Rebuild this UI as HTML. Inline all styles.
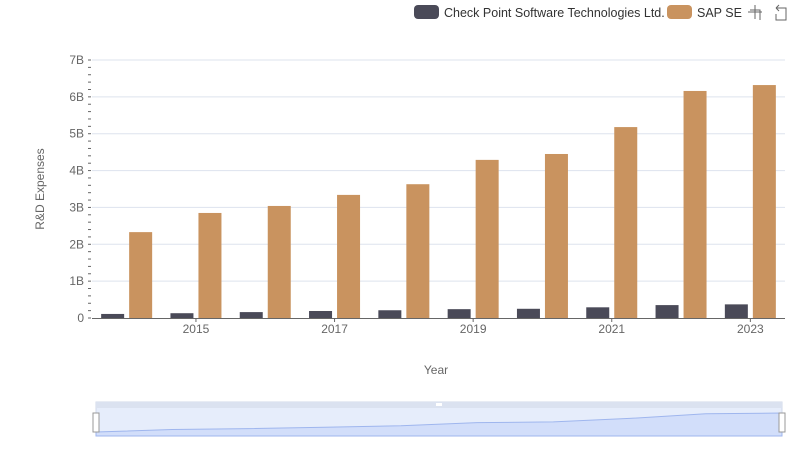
<!DOCTYPE html>
<html><head><meta charset="utf-8">
<style>
body{margin:0;background:#fff;font-family:"Liberation Sans",sans-serif;}
svg text{font-family:"Liberation Sans",sans-serif;}
</style></head>
<body>
<svg id="chart" width="800" height="461" viewBox="0 0 800 461">
  <g id="grid"></g>
  <g id="bars"></g>
  <g id="axes"></g>
  <text x="44" y="189" transform="rotate(-90 44 189)" text-anchor="middle" font-size="12" fill="#666">R&amp;D Expenses</text>
  <text x="436" y="374" text-anchor="middle" font-size="12" fill="#666">Year</text>
  <g>
    <rect x="414" y="5" width="25" height="14" rx="4" fill="#4a4a58"/>
    <text x="444" y="17" font-size="12.5" fill="#333">Check Point Software Technologies Ltd.</text>
  </g>
  <g>
    <rect x="667" y="5" width="25" height="14" rx="4" fill="#c9935f"/>
    <text x="697" y="17" font-size="12.5" fill="#333">SAP SE</text>
  </g>
  <g stroke="#666" fill="none" stroke-width="1">
    <path d="M748 12h14M755 5v14M750 10h10v10"/>
  </g>
  <g stroke="#666" fill="none" stroke-width="1">
    <path d="M776 8h10v12h-10v-6M776 8l3-3M776 8l3 3"/>
  </g>
  <g>
    <rect x="96" y="402" width="686" height="34" fill="#e6edfb" stroke="#d0d8ea"/>
    <rect x="96" y="402" width="686" height="6" fill="#dbe2f0"/>
    <path id="sliderArea" fill="#d2defa" stroke="#9fb6ee" stroke-width="1"/>
    <rect x="93" y="413" width="6" height="19" fill="#fff" stroke="#999"/>
    <rect x="779" y="413" width="6" height="19" fill="#fff" stroke="#999"/>
    <rect x="436" y="403" width="6" height="3" fill="#fff"/>
  </g>
</svg>
<script>
const years = [2014,2015,2016,2017,2018,2019,2020,2021,2022,2023];
const checkPoint = [0.11,0.13,0.16,0.19,0.21,0.24,0.25,0.29,0.35,0.37];
const sap = [2.33,2.85,3.04,3.34,3.63,4.29,4.45,5.18,6.16,6.32];
const yTicks = [0,1,2,3,4,5,6,7];
const yTickLabels = ["0","1B","2B","3B","4B","5B","6B","7B"];
const xLabelYears = [2015,2017,2019,2021,2023];

const NS="http://www.w3.org/2000/svg";
const x0=92, x1=785, y0=318, yTop=60, yMax=7;
const step=(x1-x0)/years.length;
const yS=v=>y0-(v/yMax)*(y0-yTop);
const xC=yr=>x0+step*(years.indexOf(yr)+0.5);
function mk(tag,attrs,parent){const e=document.createElementNS(NS,tag);for(const k in attrs)e.setAttribute(k,attrs[k]);parent.appendChild(e);return e;}
const grid=document.getElementById('grid'),bars=document.getElementById('bars'),axes=document.getElementById('axes');
yTicks.forEach((t,i)=>{
  const y=yS(t);
  if(t>0){const l=mk('line',{x1:x0,x2:x1,y1:y,y2:y,stroke:'#dde3ee'},grid);
  
  }
  const tx=mk('text',{x:84,y:y+4,'text-anchor':'end','font-size':12,fill:'#666'},axes);
  tx.textContent=yTickLabels[i];
  
  
});
for(let v=0;v<=yMax+1e-9;v+=0.2){const y=yS(v);mk('line',{x1:88,x2:91,y1:y,y2:y,stroke:'#666'},axes);}
years.forEach((yr,i)=>{
  const c=xC(yr), bw=23;
  const b1=mk('rect',{x:c-bw-2.5,y:yS(checkPoint[i]),width:bw,height:y0-yS(checkPoint[i]),fill:'#4a4a58'},bars);
  
  
  const b2=mk('rect',{x:c+2.5,y:yS(sap[i]),width:bw,height:y0-yS(sap[i]),fill:'#c9935f'},bars);
  
  
});
mk('line',{x1:x0,x2:x1,y1:y0+0.5,y2:y0+0.5,stroke:'#666'},axes);
xLabelYears.forEach(yr=>{
  const c=xC(yr);
  mk('line',{x1:c,x2:c,y1:y0,y2:y0+4,stroke:'#666'},axes);
  const t=mk('text',{x:c,y:333,'text-anchor':'middle','font-size':12,fill:'#666'},axes);
  t.textContent=yr;
  
  
});
// slider overview area
let d='M96 436 ';
const sMax=Math.max(...sap), sMin=Math.min(...sap);
sap.forEach((v,i)=>{const x=96+686*i/(years.length-1);const y=432-(v-sMin)/(sMax-sMin)*19;d+='L'+x+' '+y+' ';});
d+='L782 436Z';
document.getElementById('sliderArea').setAttribute('d',d);
</script>
</body></html>
